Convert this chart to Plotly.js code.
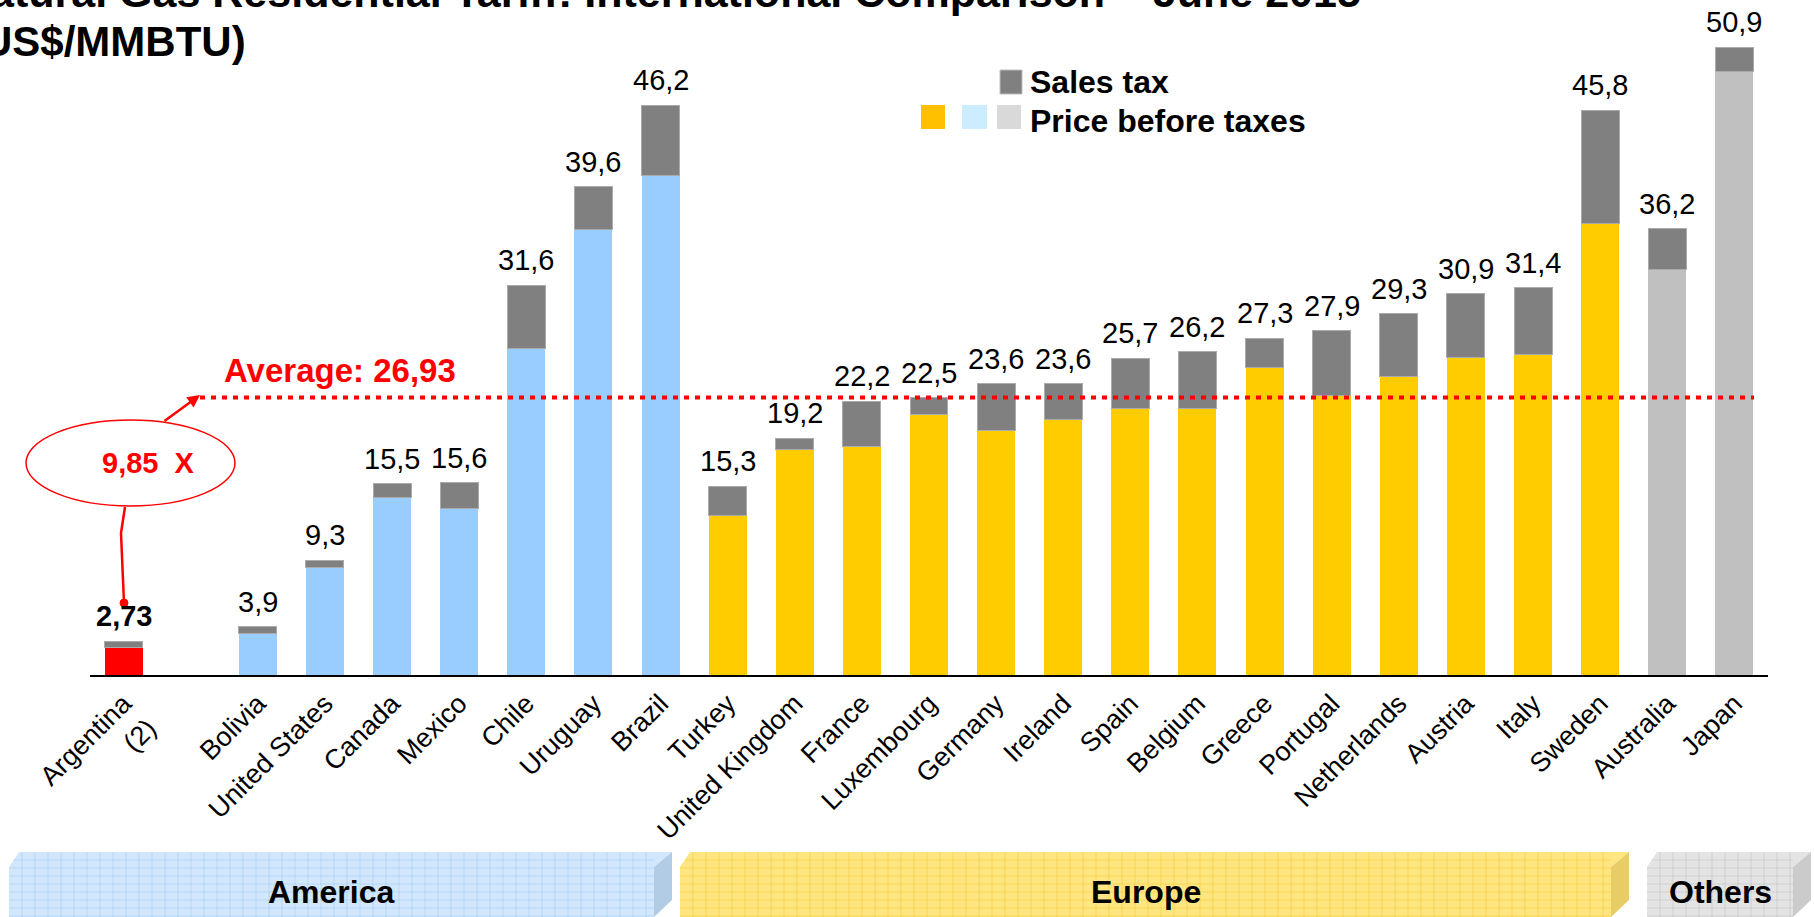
<!DOCTYPE html>
<html><head><meta charset="utf-8">
<script src="https://cdn.plot.ly/plotly-3.0.1.min.js"></script>
<style>html,body{margin:0;padding:0;background:#fff;overflow:hidden}#chart{width:1814px;height:917px}</style>
</head><body><div id="chart"></div>
<script>
// ---------- data ----------
const axisSlots = ["Argentina<br>(2)", " ", "Bolivia", "United States", "Canada", "Mexico", "Chile", "Uruguay", "Brazil",
  "Turkey", "United Kingdom", "France", "Luxembourg", "Germany", "Ireland", "Spain", "Belgium", "Greece", "Portugal",
  "Netherlands", "Austria", "Italy", "Sweden", "Australia", "Japan"];
const countries = ["Argentina<br>(2)", "Bolivia", "United States", "Canada", "Mexico", "Chile", "Uruguay", "Brazil",
  "Turkey", "United Kingdom", "France", "Luxembourg", "Germany", "Ireland", "Spain", "Belgium", "Greece", "Portugal",
  "Netherlands", "Austria", "Italy", "Sweden", "Australia", "Japan"];
const groups = ["Argentina", "America", "America", "America", "America", "America", "America", "America",
  "Europe", "Europe", "Europe", "Europe", "Europe", "Europe", "Europe", "Europe", "Europe", "Europe",
  "Europe", "Europe", "Europe", "Europe", "Others", "Others"];
const priceBeforeTaxes = [2.25, 3.4, 8.7, 14.4, 13.5, 26.5, 36.1, 40.5,
  12.9, 18.3, 18.5, 21.1, 19.8, 20.7, 21.6, 21.6, 24.95, 22.65, 24.2, 25.75, 26.0, 36.6, 32.85, 48.9];
const salesTax = [0.48, 0.5, 0.6, 1.1, 2.1, 5.1, 3.5, 5.7,
  2.4, 0.9, 3.7, 1.4, 3.8, 2.9, 4.1, 4.6, 2.35, 5.25, 5.1, 5.15, 5.4, 9.2, 3.35, 2.0];
const totalLabels = ["2,73", "3,9", "9,3", "15,5", "15,6", "31,6", "39,6", "46,2",
  "15,3", "19,2", "22,2", "22,5", "23,6", "23,6", "25,7", "26,2", "27,3", "27,9", "29,3", "30,9", "31,4", "45,8", "36,2", "50,9"];
const averageText = "26,93";
const timesText = "9,85";
const averageLineLevel = 22.5;
const regionNames = ["America", "Europe", "Others"];
const titleLine1 = "Natural Gas Residential Tariff: International Comparison \u2013 June 2015";
const titleLine2 = "(US$/MMBTU)";

// ---------- styling ----------
const FONT = '"Liberation Sans", Arial, sans-serif';
const groupColor = {Argentina: "#FF0000", America: "#99CCFF", Europe: "#FFCC00", Others: "#C0C0C0"};
const W = 1814, H = 917;
const ML = 90, MR = 46, MT = 9, MB = 242;
const PL = ML, PR = W - MR, PT = MT, PB = H - MB;
const px = x => (x - PL) / (PR - PL);
const py = y => (PB - y) / (PB - PT);

const traces = [
  {type: "bar", name: "Price before taxes", x: countries, y: priceBeforeTaxes,
   marker: {color: groups.map(g => groupColor[g]), line: {width: 0}}, hoverinfo: "x+y"},
  {type: "bar", name: "Sales tax", x: countries, y: salesTax,
   marker: {color: "#808080", line: {color: "#ABABAB", width: 1}}, hoverinfo: "x+y"}
];

const annotations = [];
const shapes = [];
const fs = (size, bold, color) => ({family: FONT, size: size, color: color || "#000", weight: bold ? "bold" : "normal"});
const mid = (baseline, size) => baseline - 0.347 * size;

// value labels
countries.forEach((c, i) => {
  annotations.push({x: c, y: priceBeforeTaxes[i] + salesTax[i], xref: "x", yref: "y", text: i === 0 ? "<b>" + totalLabels[i] + "</b>" : totalLabels[i],
    showarrow: false, yanchor: "middle", xanchor: "center", yshift: 25, font: fs(29, false)});
});

// title (cropped at the top-left as in the reference)
annotations.push({xref: "paper", yref: "paper", x: px(1363), y: py(mid(7, 43)), xanchor: "right", yanchor: "middle",
  text: "<b>" + titleLine1 + "</b>", showarrow: false, font: fs(43, true)});
annotations.push({xref: "paper", yref: "paper", x: px(248), y: py(mid(56, 42)), xanchor: "right", yanchor: "middle",
  text: "<b>" + titleLine2 + "</b>", showarrow: false, font: fs(42, true)});

// legend
shapes.push({type: "rect", xref: "paper", yref: "paper", x0: px(1000), x1: px(1022), y0: py(70), y1: py(94), fillcolor: "#808080", line: {color: "#BDBDBD", width: 1}});
shapes.push({type: "rect", xref: "paper", yref: "paper", x0: px(921), x1: px(945), y0: py(105), y1: py(129), fillcolor: "#FFC000", line: {width: 0}});
shapes.push({type: "rect", xref: "paper", yref: "paper", x0: px(962), x1: px(987), y0: py(105), y1: py(129), fillcolor: "#CCECFF", line: {width: 0}});
shapes.push({type: "rect", xref: "paper", yref: "paper", x0: px(997), x1: px(1021), y0: py(105), y1: py(129), fillcolor: "#D9D9D9", line: {width: 0}});
annotations.push({xref: "paper", yref: "paper", x: px(1028), y: py(mid(93, 32)), xanchor: "left", yanchor: "middle",
  text: "<b>Sales tax</b>", showarrow: false, font: fs(32, true)});
annotations.push({xref: "paper", yref: "paper", x: px(1028), y: py(mid(132, 32)), xanchor: "left", yanchor: "middle",
  text: "<b>Price before taxes</b>", showarrow: false, font: fs(32, true)});

// average line + label
shapes.push({type: "line", xref: "paper", yref: "y", x0: px(200), x1: px(1754), y0: averageLineLevel, y1: averageLineLevel,
  line: {color: "#FF0000", width: 4, dash: "5px,6px"}});
annotations.push({xref: "paper", yref: "paper", x: px(340), y: py(mid(382, 33)), xanchor: "center", yanchor: "middle",
  text: "<b>Average: " + averageText + "</b>", showarrow: false, font: fs(33, true, "#FF0000")});

// ellipse callout
shapes.push({type: "circle", xref: "paper", yref: "paper", x0: px(26), x1: px(235), y0: py(420), y1: py(506),
  line: {color: "#FF0000", width: 1.5}, fillcolor: "rgba(255,255,255,0)"});
annotations.push({xref: "paper", yref: "paper", x: px(148), y: py(mid(473, 29)), xanchor: "center", yanchor: "middle",
  text: "<b>" + timesText + "&nbsp;&nbsp;X</b>", showarrow: false, font: fs(29, true, "#FF0000")});
annotations.push({xref: "paper", yref: "paper", x: px(200), y: py(395), ax: -37, ay: 27, text: "", showarrow: true,
  arrowhead: 2, arrowsize: 1, arrowwidth: 2.5, arrowcolor: "#FF0000", standoff: 0});
shapes.push({type: "path", xref: "paper", yref: "paper",
  path: "M" + px(125) + "," + py(507) + " L" + px(121) + "," + py(533) + " L" + px(124) + "," + py(603),
  line: {color: "#FF0000", width: 2.5}});
shapes.push({type: "circle", xref: "paper", yref: "paper", x0: px(120), x1: px(128), y0: py(599), y1: py(607),
  fillcolor: "#FF0000", line: {color: "#FF0000", width: 1}});

// region boxes at the bottom
function regionBox(x0, x1, name, front, side, grid) {
  const d = 18, yTop = 852, yFace = 867, yBot = 917;
  const P = (x, y) => px(x) + "," + py(y);
  shapes.push({type: "path", xref: "paper", yref: "paper",
    path: "M" + P(x0, yFace) + " L" + P(x0 + 10, yTop) + " L" + P(x1, yTop) + " L" + P(x1 - d, yFace) + " Z",
    fillcolor: front, line: {width: 0}});
  shapes.push({type: "rect", xref: "paper", yref: "paper", x0: px(x0), x1: px(x1 - d), y0: py(yFace), y1: py(yBot),
    fillcolor: front, line: {width: 0}});
  shapes.push({type: "path", xref: "paper", yref: "paper",
    path: "M" + P(x1 - d, yFace) + " L" + P(x1, yTop) + " L" + P(x1, yBot - 17) + " L" + P(x1 - d, yBot) + " Z",
    fillcolor: side, line: {width: 0}});
  let g = "";
  for (let x = x0 + 13; x < x1 - d; x += 13) g += "M" + P(x, yTop) + " L" + P(x, yBot) + " ";
  for (let y = yTop + 8; y <= yBot; y += 8) {
    const xl = y < yFace ? x0 + 10 * (yFace - y) / 15 : x0;
    g += "M" + P(xl, y) + " L" + P(x1 - d, y) + " ";
  }
  shapes.push({type: "path", xref: "paper", yref: "paper", path: g, line: {color: grid, width: 1}});
  annotations.push({xref: "paper", yref: "paper", x: px((x0 + x1 - d) / 2), y: py(892), xanchor: "center", yanchor: "middle",
    text: "<b>" + name + "</b>", showarrow: false, font: fs(32, true)});
}
regionBox(9, 672, regionNames[0], "#D2E7FC", "#B3CCE6", "rgba(120,180,240,0.3)");
regionBox(680, 1629, regionNames[1], "#FFE680", "#E8CC66", "rgba(235,185,20,0.35)");
regionBox(1647, 1811, regionNames[2], "#E4E4E4", "#CBCBCB", "rgba(160,160,160,0.3)");

const layout = {
  width: W, height: H,
  margin: {l: ML, r: MR, t: MT, b: MB, pad: 0},
  paper_bgcolor: "#FFFFFF", plot_bgcolor: "#FFFFFF",
  barmode: "stack", bargap: 0.434,
  showlegend: false,
  font: {family: FONT, color: "#000"},
  xaxis: {type: "category", categoryorder: "array", categoryarray: axisSlots, range: [-0.5, axisSlots.length - 0.5],
    showline: true, linecolor: "#000", linewidth: 2, ticks: "", showgrid: false, zeroline: false,
    tickangle: -45, tickfont: {family: FONT, size: 27, color: "#000"}, automargin: false, fixedrange: true},
  yaxis: {range: [0, 54], visible: false, showgrid: false, zeroline: false, fixedrange: true},
  annotations: annotations,
  shapes: shapes
};
Plotly.newPlot("chart", traces, layout, {displayModeBar: false, staticPlot: true});
</script>
</body></html>
